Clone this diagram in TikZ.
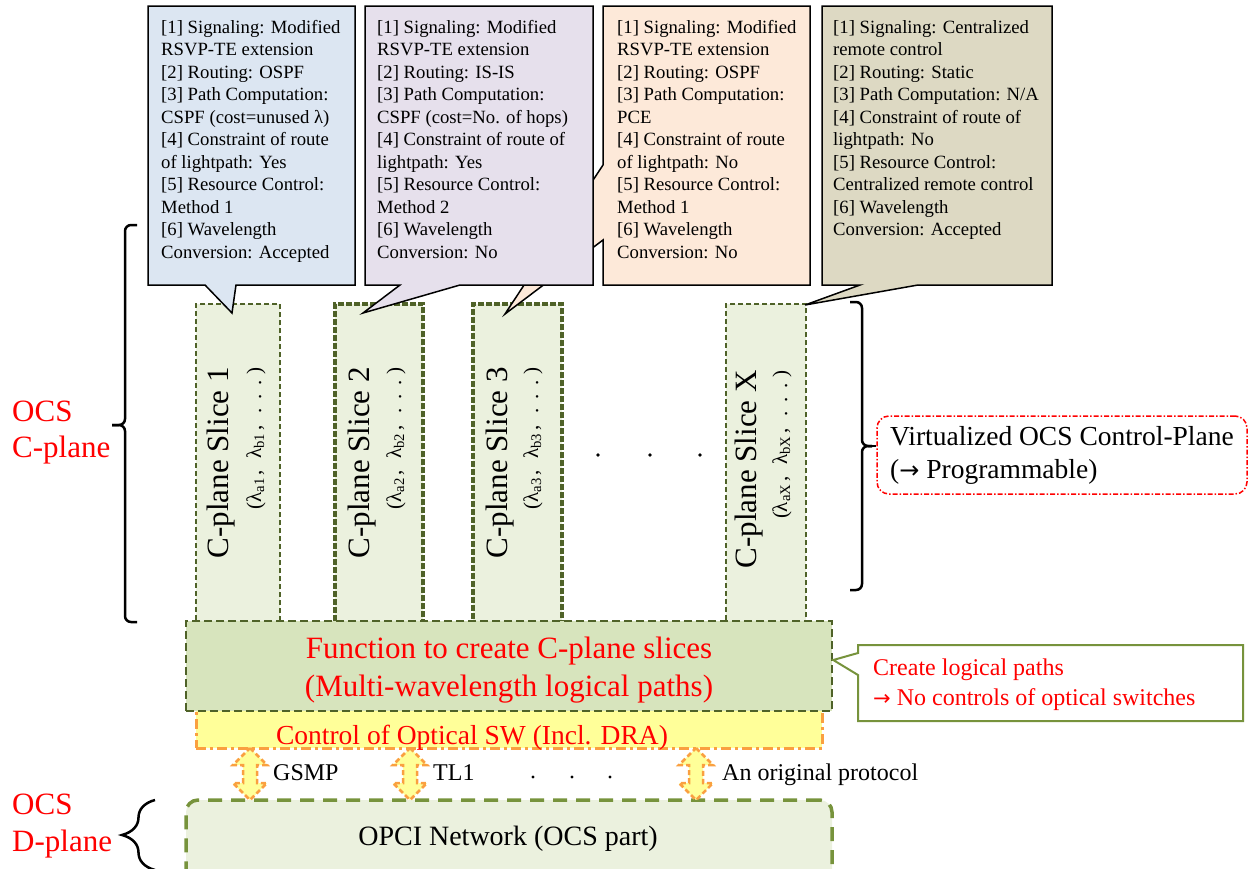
\documentclass[tikz,border=0pt]{standalone}
\usepackage{fontspec}
\setmainfont{Liberation Serif}
\newfontfamily\arrowfont{DejaVu Sans}
\usetikzlibrary{decorations.pathreplacing,calc}
\definecolor{dkgreen}{HTML}{4F6228}
\definecolor{mdgreen}{HTML}{77933C}
\definecolor{slicefill}{HTML}{EBF1DE}
\definecolor{fnfill}{HTML}{D7E4BD}
\definecolor{yel}{HTML}{FFFF99}
\definecolor{org}{HTML}{FAA040}
\definecolor{cA}{HTML}{DCE6F2}
\definecolor{cB}{HTML}{E6E0EC}
\definecolor{cC}{HTML}{FDE9D9}
\definecolor{cD}{HTML}{DDD9C3}
\newcommand{\lamsub}[1]{λ\textsubscript{#1}\hspace{0.12em}}
\newcommand{\spdots}{.\hspace{0.42em}.\hspace{0.42em}.\hspace{0.3em}}
\newcommand{\cmsp}{,\hspace{0.55em}}
\begin{document}
\begin{tikzpicture}[x=1pt,y=-1pt,
  slicethin/.style={draw=dkgreen,fill=slicefill,line width=2pt,dash pattern=on 5pt off 3pt,minimum height=321pt,inner sep=0pt},
  slicethick/.style={draw=dkgreen,fill=slicefill,line width=4pt,dash pattern=on 6pt off 2pt,minimum height=321pt,inner sep=0pt},
  slicetitle/.style={rotate=90,anchor=base east,inner sep=0pt,font=\fontsize{31}{34}\selectfont},
  slicesub/.style={rotate=90,anchor=base east,inner sep=0pt,font=\fontsize{21}{24}\selectfont},
  callout/.style={draw=black,line width=1.5pt,line join=miter},
  callouttext/.style={anchor=north west,align=left,inner sep=0pt,font=\fontsize{18.7}{22.5}\selectfont},
  bracestyle/.style={decorate,line width=2.5pt},
  squarebrace/.style={line width=2.5pt,rounded corners=6pt},
  blockarrow/.style={draw=org,fill=yel,line width=2.5pt,dash pattern=on 5pt off 3pt,line join=miter},
  redlabel/.style={text=red,anchor=north west,align=left,inner sep=0pt,font=\fontsize{31}{36}\selectfont},
  plainlabel/.style={anchor=base west,inner sep=0pt,font=\fontsize{24}{28}\selectfont}
]
\useasboundingbox (0,0) rectangle (1251,868);
\begin{scope}
\clip (0,0) rectangle (1251,868);

% ---- slices
\node[slicethin,minimum width=84pt]  (s1) at (238,464.5) {};
\node[slicethick,minimum width=88pt] (s2) at (379,464.5) {};
\node[slicethick,minimum width=89pt] (s3) at (517.5,464.5) {};
\node[slicethin,minimum width=80pt]  (sX) at (766,464.5) {};

\node[slicetitle] (s1a) at (228,367) {C-plane Slice 1};
\node[slicesub]   (s1b) at (261,367) {(\lamsub{a1}\cmsp\lamsub{b1}\cmsp\spdots)};
\node[slicetitle] (s2a) at (369,367) {C-plane Slice 2};
\node[slicesub]   (s2b) at (401,367) {(\lamsub{a2}\cmsp\lamsub{b2}\cmsp\spdots)};
\node[slicetitle] (s3a) at (507,367) {C-plane Slice 3};
\node[slicesub]   (s3b) at (538,367) {(\lamsub{a3}\cmsp\lamsub{b3}\cmsp\spdots)};
\node[slicetitle] (sXa) at (756,370) {C-plane Slice X};
\node[slicesub]   (sXb) at (787,370) {(\lamsub{aX}\cmsp\lamsub{bX}\cmsp\spdots)};

\fill (598,455) circle (1.8);
\fill (650,455) circle (1.8);
\fill (700,455) circle (1.8);

% ---- callouts (3 first: its tail passes under 2)
\coordinate (t3) at (505,314);
\draw[callout,fill=cC] (603,6) -- (810,6) -- (810,285) -- (603,285) -- (603,240) -- (t3) -- (603,165) -- cycle;
\coordinate (t2) at (363,313);
\draw[callout,fill=cB] (365,6) -- (593,6) -- (593,285) -- (460,285) -- (t2) -- (400,285) -- (365,285) -- cycle;
\coordinate (t1) at (232,313);
\draw[callout,fill=cA] (148,6) -- (355,6) -- (355,285) -- (236,285) -- (t1) -- (205,285) -- (148,285) -- cycle;
\coordinate (t4) at (805,305);
\draw[callout,fill=cD] (822,6) -- (1052,6) -- (1052,285) -- (918,285) -- (t4) -- (860,285) -- (822,285) -- cycle;

\node[callouttext] (c1) at (161,20) {[1] Signaling: Modified\\RSVP-TE extension\\{}[2] Routing: OSPF\\{}[3] Path Computation:\\CSPF (cost=unused λ)\\{}[4] Constraint of route\\of lightpath: Yes\\{}[5] Resource Control:\\Method 1\\{}[6] Wavelength\\Conversion: Accepted};
\node[callouttext] (c2) at (377,20) {[1] Signaling: Modified\\RSVP-TE extension\\{}[2] Routing: IS-IS\\{}[3] Path Computation:\\CSPF (cost=No. of hops)\\{}[4] Constraint of route of\\lightpath: Yes\\{}[5] Resource Control:\\Method 2\\{}[6] Wavelength\\Conversion: No};
\node[callouttext] (c3) at (617,20) {[1] Signaling: Modified\\RSVP-TE extension\\{}[2] Routing: OSPF\\{}[3] Path Computation:\\PCE\\{}[4] Constraint of route\\of lightpath: No\\{}[5] Resource Control:\\Method 1\\{}[6] Wavelength\\Conversion: No};
\node[callouttext] (c4) at (833,20) {[1] Signaling: Centralized\\remote control\\{}[2] Routing: Static\\{}[3] Path Computation: N/A\\{}[4] Constraint of route of\\lightpath: No\\{}[5] Resource Control:\\Centralized remote control\\{}[6] Wavelength\\Conversion: Accepted};

% ---- control of optical SW + function box
\node[draw=org,fill=yel,line width=3pt,dash pattern=on 10pt off 4pt on 3pt off 4pt,minimum width=626pt,minimum height=50pt,inner sep=0pt] (ctl) at (509,723) {};
\node[text=red,anchor=base,inner sep=0pt,font=\fontsize{27.5}{30}\selectfont] (ctlt) at (472,744) {Control of Optical SW (Incl. DRA)};
\node[draw=dkgreen,fill=fnfill,line width=2.5pt,dash pattern=on 8pt off 4pt,minimum width=646pt,minimum height=90pt,inner sep=0pt] (fn) at (509,666) {};
\node[text=red,anchor=north,align=center,inner sep=0pt,font=\fontsize{31}{38}\selectfont] (fnt) at (509,637) {Function to create C-plane slices\\(Multi-wavelength logical paths)};

% ---- note callout
\coordinate (tn) at (fn.east |- 0,660);
\draw[draw=mdgreen,fill=white,line width=2pt,line join=miter] (858,645) -- (1243,645) -- (1243,721) -- (858,721) -- (858,675) -- (tn) -- (858,653) -- cycle;
\node[text=red,anchor=north west,align=left,inner sep=0pt,font=\fontsize{24}{30}\selectfont] (note) at (873,659) {Create logical paths\\{\arrowfont\fontsize{21}{30}\selectfont →} No controls of optical switches};

% ---- OPCI network
\node[draw=mdgreen,fill=slicefill,line width=3.5pt,dash pattern=on 14pt off 9pt,rounded corners=12pt,minimum width=646pt,minimum height=90pt,inner sep=0pt] (opci) at (509,845) {};
\node[anchor=base,inner sep=0pt,font=\fontsize{28}{30}\selectfont] (opcit) at (508,845) {OPCI Network (OCS part)};

% ---- block double arrows
\coordinate (a1) at (250,748);
\coordinate (a2) at (410,748);
\coordinate (a3) at (696,748);
\foreach \a in {a1,a2,a3}{
  \draw[blockarrow] (\a) -- ++(17,17) -- ++(-10,0) -- ++(0,18) -- ++(10,0) -- ++(-17,17) -- ++(-17,-17) -- ++(10,0) -- ++(0,-18) -- ++(-10,0) -- cycle;
}
\node[plainlabel] (gsmp) at (273,780) {GSMP};
\node[plainlabel] (tl1) at (433,780) {TL1};
\node[plainlabel] (orig) at (722,780) {An original protocol};
\fill (533,777) circle (1.6);
\fill (572,777) circle (1.6);
\fill (610,777) circle (1.6);

% ---- virtualized box + right brace
\node[draw=red,fill=white,line width=1.5pt,dash pattern=on 5pt off 2pt on 1.5pt off 2pt,rounded corners=12pt,minimum width=370pt,minimum height=78pt,align=left,inner sep=0pt,font=\fontsize{27.5}{33}\selectfont] (vbox) at (1062,455) {Virtualized OCS Control-Plane\\({\arrowfont\fontsize{24}{33}\selectfont →} Programmable)};
\coordinate (rbtip) at (872,446);
\draw[squarebrace] (850,302) -- (862,302) -- (862,446) -- (rbtip);
\draw[squarebrace] (850,590) -- (862,590) -- (862,446) -- (rbtip);
\draw[line width=1.5pt] (rbtip) -- (vbox.west |- rbtip);

% ---- left labels + braces
\node[redlabel] (ocsc) at (12,401) {OCS\\C-plane};
\coordinate (lbtip) at (112,425);
\draw[squarebrace] (137,225) -- (125,225) -- (125,425) -- (lbtip);
\draw[squarebrace] (137,622) -- (125,622) -- (125,425) -- (lbtip);
\node[redlabel,font=\fontsize{31}{37}\selectfont] (ocsd) at (12,794) {OCS\\D-plane};
\draw[bracestyle,decoration={brace,amplitude=33pt}] (155,870) -- (155,800);
\end{scope}
\end{tikzpicture}
\end{document}
